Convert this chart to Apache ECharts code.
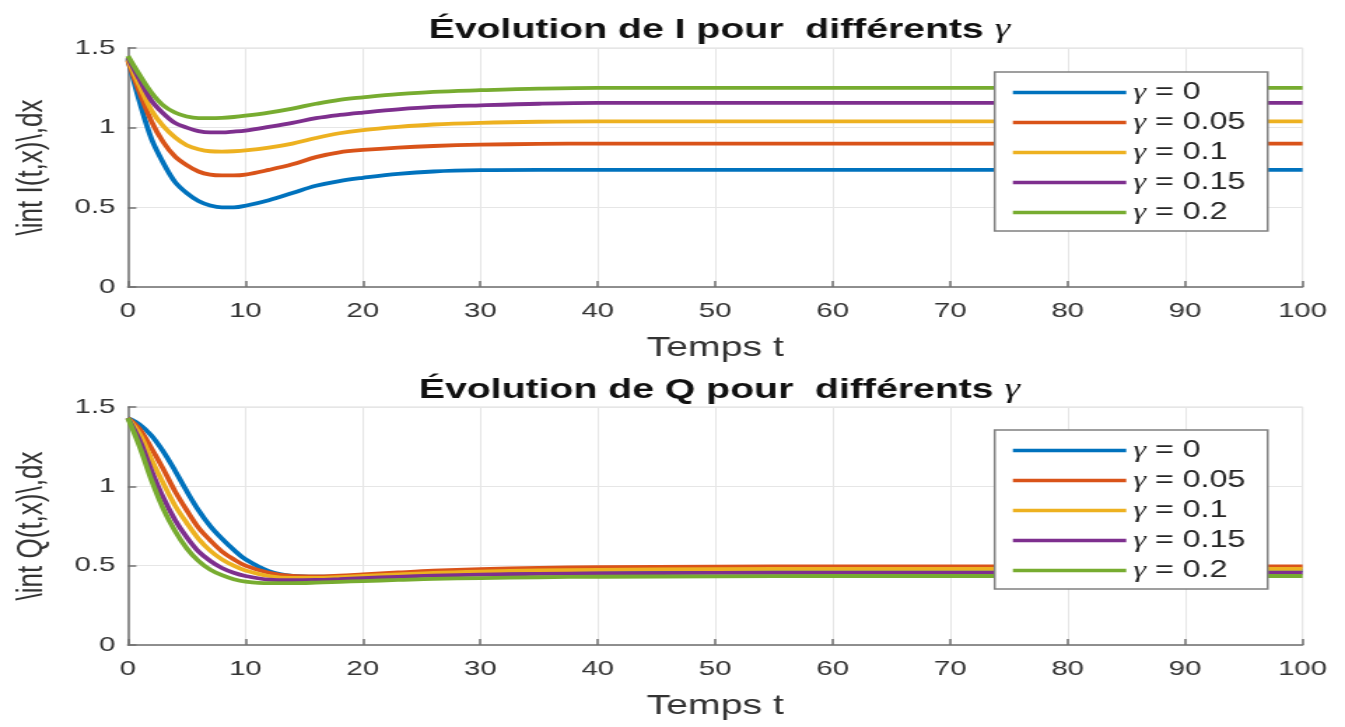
<!DOCTYPE html>
<html>
<head>
<meta charset="utf-8">
<script src="https://cdn.jsdelivr.net/npm/echarts@6/dist/echarts.min.js"></script>
<style>
  html, body { margin: 0; padding: 0; background: #fff; overflow: hidden; }
  /* the reference picture is stretched horizontally, so draw narrow then stretch */
  #main { width: 961px; height: 727px; transform: scaleX(1.39958); transform-origin: 0 0; }
</style>
</head>
<body>
<div id="main"></div>
<script>
// temps t
var t = [0, 1, 2, 3, 4, 5, 6, 7, 8, 9, 10, 12, 14, 16, 18, 20, 23, 26, 30, 35, 40, 50, 60, 70, 80, 90, 100];
var gammaNames = ['γ = 0', 'γ = 0.05', 'γ = 0.1', 'γ = 0.15', 'γ = 0.2'];
var colors = ['#0072BD', '#D95319', '#EDB120', '#7E2F8E', '#77AC30'];

// \int I(t,x) dx
var I_g0   = [1.43, 1.16, 0.93, 0.78, 0.66, 0.59, 0.54, 0.512, 0.50, 0.50, 0.51, 0.545, 0.59, 0.635, 0.665, 0.685, 0.71, 0.725, 0.733, 0.735, 0.735, 0.735, 0.735, 0.735, 0.735, 0.735, 0.735];
var I_g005 = [1.42, 1.22, 1.04, 0.91, 0.82, 0.765, 0.725, 0.705, 0.70, 0.70, 0.705, 0.735, 0.77, 0.815, 0.845, 0.86, 0.875, 0.885, 0.893, 0.898, 0.90, 0.90, 0.90, 0.90, 0.90, 0.90, 0.90];
var I_g01  = [1.43, 1.26, 1.11, 1.01, 0.94, 0.89, 0.865, 0.852, 0.85, 0.852, 0.857, 0.875, 0.90, 0.935, 0.965, 0.985, 1.005, 1.02, 1.03, 1.037, 1.04, 1.04, 1.04, 1.04, 1.04, 1.04, 1.04];
var I_g015 = [1.44, 1.30, 1.17, 1.09, 1.03, 1.0, 0.978, 0.97, 0.97, 0.975, 0.982, 1.005, 1.03, 1.06, 1.08, 1.095, 1.115, 1.13, 1.14, 1.15, 1.155, 1.155, 1.155, 1.155, 1.155, 1.155, 1.155];
var I_g02  = [1.45, 1.33, 1.22, 1.14, 1.095, 1.07, 1.06, 1.06, 1.062, 1.067, 1.075, 1.095, 1.12, 1.15, 1.175, 1.19, 1.21, 1.225, 1.235, 1.245, 1.25, 1.25, 1.25, 1.25, 1.25, 1.25, 1.25];

// \int Q(t,x) dx
var Q_g0   = [1.43, 1.39, 1.32, 1.22, 1.10, 0.97, 0.85, 0.75, 0.67, 0.60, 0.54, 0.465, 0.435, 0.43, 0.432, 0.436, 0.443, 0.45, 0.457, 0.463, 0.467, 0.47, 0.47, 0.47, 0.47, 0.47, 0.47];
var Q_g005 = [1.43, 1.36, 1.24, 1.11, 0.97, 0.85, 0.74, 0.66, 0.59, 0.54, 0.50, 0.455, 0.435, 0.432, 0.437, 0.445, 0.457, 0.468, 0.478, 0.486, 0.49, 0.494, 0.495, 0.495, 0.495, 0.495, 0.495];
var Q_g01  = [1.43, 1.33, 1.17, 1.02, 0.88, 0.77, 0.67, 0.595, 0.54, 0.50, 0.47, 0.435, 0.423, 0.423, 0.428, 0.435, 0.445, 0.455, 0.463, 0.47, 0.474, 0.478, 0.48, 0.48, 0.48, 0.48, 0.48];
var Q_g015 = [1.43, 1.29, 1.10, 0.93, 0.79, 0.68, 0.59, 0.53, 0.485, 0.455, 0.435, 0.412, 0.408, 0.41, 0.415, 0.421, 0.43, 0.437, 0.443, 0.448, 0.451, 0.454, 0.455, 0.455, 0.455, 0.455, 0.455];
var Q_g02  = [1.43, 1.25, 1.04, 0.86, 0.72, 0.61, 0.53, 0.475, 0.44, 0.415, 0.40, 0.39, 0.39, 0.393, 0.398, 0.403, 0.41, 0.417, 0.422, 0.427, 0.43, 0.433, 0.435, 0.435, 0.435, 0.435, 0.435];

var I_all = [I_g0, I_g005, I_g01, I_g015, I_g02];
var Q_all = [Q_g0, Q_g005, Q_g01, Q_g015, Q_g02];

var font = 'Liberation Sans, Arial, sans-serif';
var gammaStyle = { fontFamily: 'Liberation Serif, serif', fontStyle: 'italic', fontWeight: 'normal' };

function pairs(ys) {
  return t.map(function (x, i) { return [x, ys[i]]; });
}

function xAxis(idx) {
  return {
    type: 'value', gridIndex: idx, min: 0, max: 100, interval: 10,
    name: 'Temps t', nameLocation: 'middle', nameGap: 47,
    nameTextStyle: { fontFamily: font, fontSize: 28, color: '#333' },
    axisLine: { lineStyle: { color: '#707070', width: 1.5 } },
    axisTick: { inside: true, length: 6, lineStyle: { color: '#707070', width: 1.5 } },
    axisLabel: { fontFamily: font, fontSize: 21, color: '#333', margin: 14 },
    splitLine: { show: true, lineStyle: { color: '#e6e6e6', width: 1 } }
  };
}

function yAxis(idx, label) {
  return {
    type: 'value', gridIndex: idx, min: 0, max: 1.5, interval: 0.5,
    name: label, nameLocation: 'middle', nameGap: 56, nameRotate: 90,
    nameTextStyle: { fontFamily: font, fontSize: 26, color: '#333' },
    axisLine: { show: true, lineStyle: { color: '#707070', width: 1.5 } },
    axisTick: { show: true, inside: true, length: 6, lineStyle: { color: '#707070', width: 1.5 } },
    axisLabel: { fontFamily: font, fontSize: 21, color: '#333', margin: 9 },
    splitLine: { show: true, lineStyle: { color: '#e6e6e6', width: 1 } }
  };
}

function legend(top) {
  return {
    orient: 'vertical', left: 710.7, top: top,
    data: gammaNames,
    icon: 'rect', itemWidth: 81, itemHeight: 3.5, itemGap: 7,
    padding: [9, 16, 7, 13],
    backgroundColor: '#fff', borderColor: '#808080', borderWidth: 1.5,
    selectedMode: false,
    formatter: function (n) { return '{g|γ}' + n.slice(1); },
    textStyle: {
      fontFamily: font, fontSize: 23, color: '#262626',
      rich: { g: Object.assign({ fontSize: 23, color: '#262626' }, gammaStyle) }
    }
  };
}

function title(top, text) {
  return {
    text: text + '{g|γ}', left: 509, top: top, textAlign: 'center',
    textStyle: {
      fontFamily: font, fontSize: 28, fontWeight: 'bold', color: '#111',
      rich: { g: Object.assign({ fontSize: 28, color: '#111' }, gammaStyle) }
    }
  };
}

var series = [];
I_all.forEach(function (ys, k) {
  series.push({
    name: gammaNames[k], type: 'line', xAxisIndex: 0, yAxisIndex: 0,
    data: pairs(ys), smooth: 0.35, showSymbol: false,
    lineStyle: { width: 3.8, color: colors[k] }, itemStyle: { color: colors[k] }
  });
});
Q_all.forEach(function (ys, k) {
  series.push({
    name: gammaNames[k], type: 'line', xAxisIndex: 1, yAxisIndex: 1,
    data: pairs(ys), smooth: 0.35, showSymbol: false,
    lineStyle: { width: 3.8, color: colors[k] }, itemStyle: { color: colors[k] }
  });
});

var chart = echarts.init(document.getElementById('main'));
chart.setOption({
  backgroundColor: '#fff',
  animation: false,
  title: [
    title(11, 'Évolution de I pour  différents '),
    title(371, 'Évolution de Q pour  différents ')
  ],
  legend: [legend(72), legend(430)],
  grid: [
    { left: 91.4, right: 30.3, top: 48, height: 239, show: true, borderColor: '#dcdcdc', borderWidth: 1 },
    { left: 91.4, right: 30.3, top: 407, height: 238, show: true, borderColor: '#dcdcdc', borderWidth: 1 }
  ],
  xAxis: [xAxis(0), xAxis(1)],
  yAxis: [yAxis(0, '\\int I(t,x)\\,dx'), yAxis(1, '\\int Q(t,x)\\,dx')],
  series: series
});
</script>
</body>
</html>
